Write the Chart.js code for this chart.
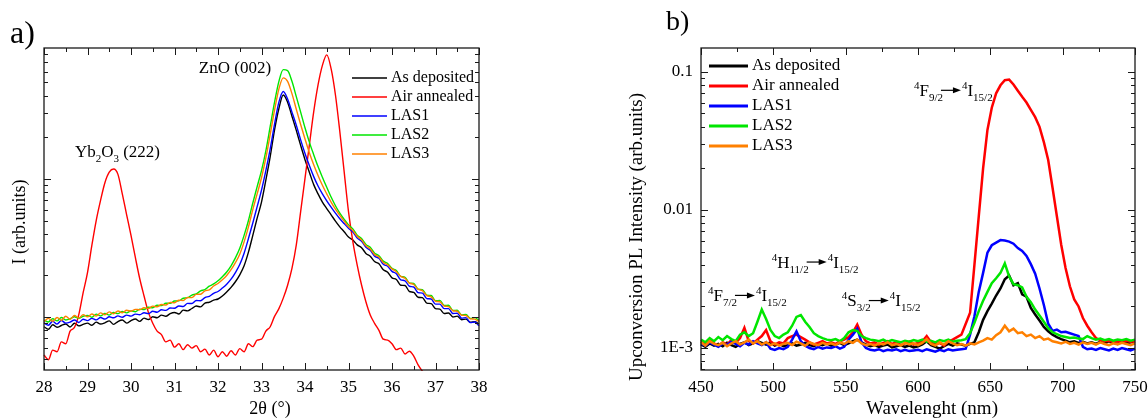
<!DOCTYPE html>
<html>
<head>
<meta charset="utf-8">
<script src="https://cdn.jsdelivr.net/npm/chart.js@4.4.0/dist/chart.umd.min.js"></script>
<style>
  body { margin: 0; width: 1148px; height: 419px; overflow: hidden; background: #fff; position: relative; }
  canvas { position: absolute; top: 0; }
  .tag { position: absolute; font-family: 'Liberation Serif', serif; color: #000; z-index: 2; line-height: 1; }
</style>
</head>
<body>
<div class="tag" style="left:10px;top:16px;font-size:32px">a)</div>
<div class="tag" style="left:666px;top:7px;font-size:28px">b)</div>
<canvas id="xrd" width="574" height="419" style="left:0"></canvas>
<canvas id="pl" width="600" height="419" style="left:574px"></canvas>
<script>
const seriesNames = ['As deposited', 'Air annealed', 'LAS1', 'LAS2', 'LAS3'];

// a) XRD, 2theta in degrees, intensity in arb. units (log axis)
const twoTheta = [28,28.1,28.2,28.3,28.4,28.5,28.6,28.7,28.8,28.9,
  29,29.1,29.2,29.3,29.4,29.5,29.6,29.7,29.8,29.9,
  30,30.1,30.2,30.3,30.4,30.5,30.6,30.7,30.8,30.9,
  31,31.1,31.2,31.3,31.4,31.5,31.6,31.7,31.8,31.9,
  32,32.1,32.2,32.3,32.4,32.5,32.6,32.7,32.8,32.9,
  33,33.1,33.2,33.3,33.4,33.5,33.6,33.7,33.8,33.9,
  34,34.1,34.2,34.3,34.4,34.5,34.6,34.7,34.8,34.9,
  35,35.1,35.2,35.3,35.4,35.5,35.6,35.7,35.8,35.9,
  36,36.1,36.2,36.3,36.4,36.5,36.6,36.7,36.8,36.9,
  37,37.1,37.2,37.3,37.4,37.5,37.6,37.7,37.8,37.9,38];
const xrdAsDeposited = [850,815,878,842,868,889,846,901,862,884,
  903,871,918,889,907,938,884,927,951,902,
  941,968,929,982,958,1004,987,1031,1012,1058,
  1079,1052,1121,1108,1152,1201,1183,1262,1279,1325,
  1350,1420,1520,1640,1800,2020,2350,2950,3900,5200,
  6800,9800,14500,22700,32400,40600,36000,28500,22500,17500,
  13800,11200,9100,7800,6800,6100,5500,4950,4500,4150,
  3800,3610,3330,3180,2890,2760,2520,2430,2200,2110,
  1920,1870,1700,1690,1530,1510,1390,1380,1260,1250,
  1150,1140,1060,1070,1000,1015,955,965,915,925,890];
const xrdAirAnnealed = [530,490,575,560,660,640,790,840,1040,1500,
  2100,3300,5000,7000,9400,11200,11800,10800,7800,5500,
  3900,2700,1900,1420,1080,900,790,745,660,680,
  605,640,580,630,595,620,560,585,530,575,
  515,560,520,570,530,590,560,640,610,680,
  690,790,850,1010,1150,1370,1700,2250,3330,5800,
  10100,17600,30600,48000,66500,79300,63000,40600,22100,11300,
  5800,3520,2380,1705,1290,1035,900,800,690,680,
  640,580,595,540,565,520,450,405,375,350,
  330,310,295,280,270,260,250,245,240,235,230];
const xrdLas1 = [905,872,931,889,942,902,918,951,913,962,
  941,978,953,991,966,1003,987,1019,996,1032,
  1014,1049,1038,1072,1058,1101,1083,1128,1117,1162,
  1158,1201,1192,1255,1251,1318,1312,1384,1412,1485,
  1530,1620,1730,1880,2100,2400,2900,3700,4800,6300,
  8300,11500,16500,25000,36000,43000,38000,30500,24500,19200,
  15300,12500,10400,8900,7800,6950,6250,5650,5150,4750,
  4400,4120,3740,3540,3200,3040,2760,2660,2410,2330,
  2140,2060,1860,1830,1670,1650,1500,1490,1360,1350,
  1240,1240,1150,1150,1060,1065,980,990,910,920,865];
const xrdLas2 = [950,921,972,938,991,952,968,1003,979,1012,
  1028,996,1049,1018,1062,1031,1077,1058,1096,1071,
  1108,1092,1141,1132,1176,1168,1215,1208,1259,1255,
  1305,1308,1368,1380,1442,1470,1545,1582,1672,1735,
  1830,1960,2120,2350,2680,3150,3900,5000,6700,8800,
  11500,16000,24000,36000,51000,62000,61000,51000,39500,30500,
  23500,18500,15000,12300,10300,8700,7400,6400,5650,5100,
  4650,4350,3920,3700,3350,3200,2900,2780,2540,2440,
  2250,2170,1970,1940,1760,1750,1590,1580,1440,1430,
  1310,1320,1210,1215,1115,1120,1035,1045,975,990,945];
const xrdLas3 = [925,978,931,992,948,1012,963,1024,982,1040,
  1003,1052,1016,1071,1038,1090,1055,1106,1072,1118,
  1101,1136,1128,1166,1152,1198,1185,1232,1221,1277,
  1268,1322,1318,1383,1382,1458,1463,1548,1571,1676,
  1750,1860,2000,2200,2480,2850,3500,4500,6000,7800,
  10200,14200,21000,31500,45000,54000,51000,41500,32000,24800,
  19500,15500,12700,10600,9000,7800,6800,6050,5450,4950,
  4520,4230,3840,3620,3280,3110,2830,2720,2480,2390,
  2230,2130,1970,1910,1760,1720,1590,1550,1430,1400,
  1300,1290,1200,1190,1110,1100,1030,1025,970,965,925];

// b) upconversion PL, wavelength in nm, intensity in arb. units (log axis)
const wavelength = [450,453,456,459,462,465,468,471,474,477,
  480,483,486,489,492,495,498,501,504,507,
  510,513,516,519,522,525,528,531,534,537,
  540,543,546,549,552,555,558,561,564,567,
  570,573,576,579,582,585,588,591,594,597,
  600,603,606,609,612,615,618,621,624,627,
  630,633,636,639,642,645,648,651,654,657,
  660,663,666,669,672,675,678,681,684,687,
  690,693,696,699,702,705,708,711,714,717,
  720,723,726,729,732,735,738,741,744,747,750];
const plAsDeposited = [0.00106,0.00102,0.00108,0.00104,0.00107,0.00103,0.00109,0.00105,0.00102,0.00107,
  0.00110,0.00105,0.00108,0.00112,0.00109,0.00106,0.00110,0.00104,0.00107,0.00103,
  0.00105,0.00108,0.00104,0.00106,0.00109,0.00105,0.00103,0.00107,0.00105,0.00108,
  0.00104,0.00106,0.00109,0.00105,0.00108,0.00112,0.00115,0.00110,0.00106,0.00103,
  0.00105,0.00102,0.00104,0.00106,0.00101,0.00103,0.00105,0.00102,0.00104,0.00101,
  0.00103,0.00106,0.00112,0.00105,0.00102,0.00099,0.00103,0.00107,0.00104,0.00108,
  0.00106,0.00104,0.00107,0.00110,0.00130,0.00160,0.00185,0.00210,0.00240,0.00270,
  0.00315,0.00335,0.00285,0.00295,0.00245,0.00235,0.00195,0.00175,0.00158,0.00142,
  0.00132,0.00125,0.00120,0.00116,0.00113,0.00110,0.00112,0.00109,0.00111,0.00108,
  0.00110,0.00107,0.00111,0.00108,0.00112,0.00109,0.00107,0.00111,0.00108,0.00110,0.00112];
const plAirAnnealed = [0.00112,0.00105,0.00115,0.00108,0.00103,0.00110,0.00106,0.00114,0.00109,0.00118,
  0.00140,0.00112,0.00108,0.00115,0.00122,0.00135,0.00112,0.00106,0.00110,0.00108,
  0.00118,0.00122,0.00125,0.00120,0.00115,0.00110,0.00106,0.00109,0.00112,0.00108,
  0.00110,0.00107,0.00112,0.00115,0.00120,0.00130,0.00148,0.00125,0.00112,0.00108,
  0.00110,0.00106,0.00109,0.00112,0.00107,0.00110,0.00105,0.00108,0.00111,0.00106,
  0.00109,0.00112,0.00122,0.00110,0.00106,0.00109,0.00104,0.00112,0.00115,0.00120,
  0.00125,0.00150,0.00180,0.0040,0.0090,0.020,0.038,0.055,0.070,0.080,
  0.087,0.088,0.081,0.073,0.066,0.060,0.053,0.047,0.040,0.031,
  0.023,0.0145,0.0090,0.0056,0.0038,0.0028,0.00225,0.0020,0.00165,0.00145,
  0.00130,0.00118,0.00114,0.00112,0.00113,0.00111,0.00112,0.00110,0.00113,0.00111,0.00112];
const plLas1 = [0.00108,0.00104,0.00110,0.00106,0.00102,0.00108,0.00105,0.00111,0.00107,0.00103,
  0.00109,0.00106,0.00112,0.00108,0.00105,0.00110,0.00099,0.00097,0.00100,0.00098,
  0.00102,0.00115,0.00132,0.00112,0.00104,0.00100,0.00098,0.00102,0.00099,0.00101,
  0.00100,0.00103,0.00099,0.00102,0.00115,0.00125,0.00138,0.00110,0.00100,0.00097,
  0.00096,0.00098,0.00095,0.00097,0.00096,0.00098,0.00095,0.00097,0.00095,0.00096,
  0.00097,0.00095,0.00098,0.00096,0.00094,0.00097,0.00095,0.00098,0.00096,0.00097,
  0.00098,0.00099,0.00125,0.00170,0.00255,0.00350,0.00490,0.00555,0.00580,0.00605,
  0.00600,0.00590,0.00570,0.00530,0.00505,0.00465,0.00405,0.00345,0.00270,0.00205,
  0.00150,0.00133,0.00136,0.00130,0.00131,0.00128,0.00125,0.00122,0.00102,0.00098,
  0.00099,0.00097,0.00100,0.00098,0.00096,0.00099,0.00097,0.00100,0.00098,0.00096,0.00099];
const plLas2 = [0.00115,0.00110,0.00118,0.00112,0.00120,0.00114,0.00122,0.00116,0.00112,0.00125,
  0.00130,0.00122,0.00128,0.00155,0.00190,0.00162,0.00135,0.00122,0.00118,0.00125,
  0.00130,0.00145,0.00168,0.00173,0.00155,0.00142,0.00128,0.00122,0.00118,0.00115,
  0.00114,0.00116,0.00112,0.00118,0.00130,0.00135,0.00133,0.00122,0.00118,0.00115,
  0.00114,0.00112,0.00115,0.00111,0.00114,0.00112,0.00110,0.00113,0.00111,0.00114,
  0.00112,0.00115,0.00111,0.00113,0.00110,0.00114,0.00112,0.00115,0.00111,0.00113,
  0.00114,0.00116,0.00128,0.00152,0.00185,0.00220,0.00255,0.00295,0.00320,0.00350,
  0.00410,0.00330,0.00290,0.00285,0.00275,0.00235,0.00215,0.00190,0.00172,0.00155,
  0.00139,0.00130,0.00126,0.00122,0.00120,0.00118,0.00119,0.00117,0.00116,0.00122,
  0.00118,0.00115,0.00117,0.00114,0.00116,0.00113,0.00115,0.00114,0.00116,0.00113,0.00115];
const plLas3 = [0.00110,0.00104,0.00112,0.00107,0.00105,0.00109,0.00103,0.00108,0.00112,0.00106,
  0.00110,0.00115,0.00108,0.00112,0.00106,0.00110,0.00105,0.00108,0.00104,0.00107,
  0.00109,0.00105,0.00111,0.00108,0.00104,0.00110,0.00107,0.00105,0.00109,0.00106,
  0.00108,0.00105,0.00110,0.00107,0.00112,0.00109,0.00115,0.00108,0.00105,0.00107,
  0.00104,0.00108,0.00106,0.00110,0.00105,0.00107,0.00104,0.00109,0.00106,0.00108,
  0.00105,0.00109,0.00116,0.00107,0.00104,0.00110,0.00106,0.00112,0.00108,0.00105,
  0.00107,0.00104,0.00108,0.00106,0.00110,0.00113,0.00118,0.00115,0.00124,0.00130,
  0.00145,0.00132,0.00138,0.00128,0.00130,0.00122,0.00125,0.00118,0.00122,0.00115,
  0.00117,0.00112,0.00110,0.00108,0.00111,0.00107,0.00109,0.00106,0.00110,0.00107,
  0.00109,0.00106,0.00110,0.00107,0.00105,0.00108,0.00106,0.00109,0.00107,0.00105,0.00108];

const plTickValues = [0.001, 0.01, 0.1];
const plTickLabels = ['1E-3', '0.01', '0.1'];

const colors = ['#000000', '#ff0000', '#0000ff', '#00e600', '#ff8000'];
const serif = "'Liberation Serif', serif";
Chart.defaults.font.family = serif;
Chart.defaults.color = '#000';

function arrow(ctx, x, y, len) {
  ctx.save();
  ctx.strokeStyle = '#000';
  ctx.fillStyle = '#000';
  ctx.lineWidth = 1.2;
  ctx.beginPath();
  ctx.moveTo(x, y);
  ctx.lineTo(x + len - 6, y);
  ctx.stroke();
  ctx.beginPath();
  ctx.moveTo(x + len, y);
  ctx.lineTo(x + len - 8, y - 3);
  ctx.lineTo(x + len - 8, y + 3);
  ctx.closePath();
  ctx.fill();
  ctx.restore();
}

// frame, inward ticks on all sides, legend, notes and axis titles
function decor(cfg) {
  return {
    id: 'decor',
    afterDraw(chart) {
      const {ctx, chartArea: a} = chart;
      const xs = chart.scales.x, ys = chart.scales.y;
      ctx.save();
      ctx.strokeStyle = '#1a1a1a';
      ctx.lineWidth = 1;
      ctx.beginPath();
      const n = Math.round((xs.max - xs.min) / cfg.xMinor);
      const ratio = Math.round(cfg.xMajor / cfg.xMinor);
      for (let i = 0; i <= n; i++) {
        const px = Math.round(xs.getPixelForValue(xs.min + i * cfg.xMinor)) + 0.5;
        const len = i % ratio === 0 ? 7 : 4;
        ctx.moveTo(px, a.bottom); ctx.lineTo(px, a.bottom - len);
        ctx.moveTo(px, a.top); ctx.lineTo(px, a.top + len);
      }
      const e0 = Math.floor(Math.log10(ys.min)), e1 = Math.ceil(Math.log10(ys.max));
      for (let e = e0; e <= e1; e++) {
        for (let m = 1; m <= 9; m++) {
          const v = m * Math.pow(10, e);
          if (v < ys.min || v > ys.max) continue;
          const py = Math.round(ys.getPixelForValue(v)) + 0.5;
          const len = m === 1 ? 7 : 4;
          ctx.moveTo(a.left, py); ctx.lineTo(a.left + len, py);
          ctx.moveTo(a.right, py); ctx.lineTo(a.right - len, py);
        }
      }
      ctx.stroke();
      ctx.lineWidth = 1.3;
      ctx.strokeRect(a.left, a.top, a.right - a.left, a.bottom - a.top);

      // legend
      const lg = cfg.legend;
      ctx.font = lg.size + 'px ' + serif;
      ctx.textBaseline = 'middle';
      ctx.textAlign = 'left';
      ctx.fillStyle = '#000';
      chart.data.datasets.forEach((ds, i) => {
        const y = a.top + lg.top + i * lg.step;
        const x = a.left + lg.left;
        ctx.strokeStyle = ds.borderColor;
        ctx.lineWidth = lg.lw;
        ctx.beginPath();
        ctx.moveTo(x, y);
        ctx.lineTo(x + lg.len, y);
        ctx.stroke();
        ctx.fillText(ds.label, x + lg.len + lg.gap, y);
      });

      // peak / transition notes
      ctx.textBaseline = 'alphabetic';
      cfg.notes.forEach(nt => {
        let cx = xs.getPixelForValue(nt.x);
        const by = ys.getPixelForValue(nt.y);
        nt.parts.forEach(([t, k]) => {
          if (k === 'arrow') {
            arrow(ctx, cx - 2, by - nt.size * 0.33, 20);
            cx += 19;
            return;
          }
          const fs = k === 'n' ? nt.size : Math.round(nt.size * 0.62);
          ctx.font = fs + 'px ' + serif;
          const dy = k === 'sup' ? -nt.size * 0.42 : k === 'sub' ? nt.size * 0.3 : 0;
          ctx.fillText(t, cx, by + dy);
          cx += ctx.measureText(t).width;
        });
      });

      // axis titles
      cfg.titles.forEach(t => {
        ctx.save();
        ctx.translate(t.x, t.y);
        ctx.rotate(t.rot || 0);
        ctx.font = t.size + 'px ' + serif;
        ctx.textAlign = 'center';
        ctx.textBaseline = 'middle';
        ctx.fillText(t.text, 0, 0);
        ctx.restore();
      });
      ctx.restore();
    }
  };
}

function lines(xv, series, width, smooth) {
  return series.map((vals, i) => ({
    label: seriesNames[i],
    data: xv.map((x, j) => ({x: x, y: vals[j]})),
    borderColor: colors[i],
    borderWidth: width,
    pointRadius: 0,
    order: -i,
    cubicInterpolationMode: smooth ? 'monotone' : 'default',
    tension: 0,
    clip: 1
  }));
}

const tickFont = {size: 17};

new Chart(document.getElementById('xrd'), {
  type: 'line',
  data: {datasets: lines(twoTheta, [xrdAsDeposited, xrdAirAnnealed, xrdLas1, xrdLas2, xrdLas3], 1.4, true)},
  options: {
    responsive: false,
    animation: false,
    events: [],
    layout: {padding: {left: 0, right: 95, top: 48, bottom: 0}},
    plugins: {legend: {display: false}, tooltip: {enabled: false}},
    scales: {
      x: {
        type: 'linear', min: 28, max: 38,
        ticks: {stepSize: 1, padding: 7, font: tickFont, maxRotation: 0, autoSkip: false},
        grid: {display: false, drawTicks: false},
        border: {display: false},
        afterFit: s => { s.height = 49; }
      },
      y: {
        type: 'logarithmic', min: 413, max: 88900,
        ticks: {display: false},
        grid: {display: false, drawTicks: false},
        border: {display: false},
        afterFit: s => { s.width = 44; }
      }
    }
  },
  plugins: [decor({
    xMinor: 0.5, xMajor: 1,
    legend: {left: 308, top: 30, step: 19, len: 35, gap: 4, size: 16, lw: 1.5},
    notes: [
      {x: 31.56, y: 59000, size: 17, parts: [['ZnO (002)', 'n']]},
      {x: 28.71, y: 14400, size: 17, parts: [['Yb', 'n'], ['2', 'sub'], ['O', 'n'], ['3', 'sub'], [' (222)', 'n']]}
    ],
    titles: [
      {text: '2θ (°)', x: 270, y: 409, size: 18},
      {text: 'I (arb.units)', x: 20, y: 222, rot: -Math.PI / 2, size: 18}
    ]
  })]
});

new Chart(document.getElementById('pl'), {
  type: 'line',
  data: {datasets: lines(wavelength, [plAsDeposited, plAirAnnealed, plLas1, plLas2, plLas3], 2.5, false)},
  options: {
    responsive: false,
    animation: false,
    events: [],
    layout: {padding: {left: 0, right: 39, top: 48, bottom: 0}},
    plugins: {legend: {display: false}, tooltip: {enabled: false}},
    scales: {
      x: {
        type: 'linear', min: 450, max: 750,
        ticks: {stepSize: 50, padding: 7, font: tickFont, maxRotation: 0, autoSkip: false},
        grid: {display: false, drawTicks: false},
        border: {display: false},
        afterFit: s => { s.height = 49; }
      },
      y: {
        type: 'logarithmic', min: 0.000693, max: 0.149,
        afterBuildTicks: s => { s.ticks = plTickValues.map(v => ({value: v})); },
        ticks: {font: tickFont, padding: 8, autoSkip: false, callback: (v, i) => plTickLabels[i]},
        grid: {display: false, drawTicks: false},
        border: {display: false},
        afterFit: s => { s.width = 127; }
      }
    }
  },
  plugins: [decor({
    xMinor: 25, xMajor: 50,
    legend: {left: 8, top: 18, step: 20, len: 39, gap: 4, size: 17, lw: 3},
    notes: [
      {x: 597.2, y: 0.067, size: 17, parts: [['4', 'sup'], ['F', 'n'], ['9/2', 'sub'], ['', 'arrow'], ['4', 'sup'], ['I', 'n'], ['15/2', 'sub']]},
      {x: 454.8, y: 0.00219, size: 17, parts: [['4', 'sup'], ['F', 'n'], ['7/2', 'sub'], ['', 'arrow'], ['4', 'sup'], ['I', 'n'], ['15/2', 'sub']]},
      {x: 498.9, y: 0.00382, size: 17, parts: [['4', 'sup'], ['H', 'n'], ['11/2', 'sub'], ['', 'arrow'], ['4', 'sup'], ['I', 'n'], ['15/2', 'sub']]},
      {x: 547.3, y: 0.00201, size: 17, parts: [['4', 'sup'], ['S', 'n'], ['3/2', 'sub'], ['', 'arrow'], ['4', 'sup'], ['I', 'n'], ['15/2', 'sub']]}
    ],
    titles: [
      {text: 'Wavelenght (nm)', x: 358, y: 409, size: 19},
      {text: 'Upconversion PL Intensity (arb.units)', x: 63, y: 237, rot: -Math.PI / 2, size: 19}
    ]
  })]
});
</script>
</body>
</html>
